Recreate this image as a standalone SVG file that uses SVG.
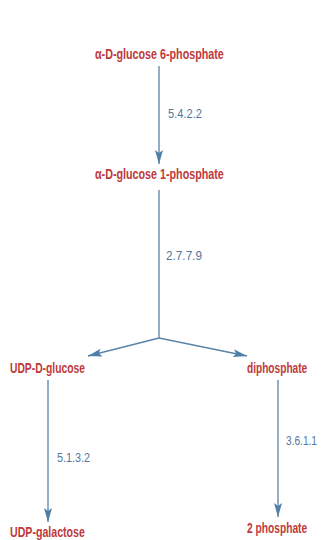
<svg xmlns="http://www.w3.org/2000/svg" width="321" height="540" viewBox="0 0 321 540">
  <style>
    .node { font-family: "Liberation Sans", Arial, sans-serif; font-weight: bold; font-size: 15px; fill: #c0393b; }
    .ec { font-family: "Liberation Sans", Arial, sans-serif; font-size: 12px; fill: #52779c; }
    .edge { stroke: #5a83a8; stroke-width: 1.3; fill: none; }
  </style>
  <defs>
    <marker id="arrow" viewBox="0 0 14 8" refX="14" refY="4" markerWidth="14" markerHeight="8" markerUnits="userSpaceOnUse" orient="auto">
      <path d="M0,0 L14,4 L0,8 L3,4 Z" fill="#4f7ea6"/>
    </marker>
  </defs>
  <rect width="321" height="540" fill="#ffffff"/>

  <g id="connectors">
    <line class="edge" x1="159" y1="66" x2="159" y2="164" marker-end="url(#arrow)"/>
    <line class="edge" x1="159" y1="190" x2="159" y2="338"/>
    <line class="edge" x1="159" y1="338" x2="88" y2="356" marker-end="url(#arrow)"/>
    <line class="edge" x1="159" y1="338" x2="247" y2="356" marker-end="url(#arrow)"/>
    <line class="edge" x1="48" y1="380" x2="48" y2="522" marker-end="url(#arrow)"/>
    <line class="edge" x1="278" y1="380" x2="278" y2="517" marker-end="url(#arrow)"/>
    <!-- EC numbers, narrowed slightly -->
    <text class="ec" transform="translate(168,118) scale(0.9,1)" textLength="37.8" lengthAdjust="spacingAndGlyphs">5.4.2.2</text>
    <text class="ec" transform="translate(166,260) scale(0.9,1)" textLength="40" lengthAdjust="spacingAndGlyphs">2.7.7.9</text>
    <text class="ec" transform="translate(57,462) scale(0.9,1)" textLength="36.7" lengthAdjust="spacingAndGlyphs">5.1.3.2</text>
    <text class="ec" transform="translate(286,445) scale(0.9,1)" textLength="34.4" lengthAdjust="spacingAndGlyphs">3.6.1.1</text>
  </g>

  <!-- compound names, set in a condensed bold -->
  <g id="g6p">
    <text class="node" transform="translate(95,59) scale(0.7,1)" textLength="184" lengthAdjust="spacingAndGlyphs">α-D-glucose 6-phosphate</text>
  </g>
  <g id="g1p">
    <text class="node" transform="translate(95,179) scale(0.7,1)" textLength="184" lengthAdjust="spacingAndGlyphs">α-D-glucose 1-phosphate</text>
  </g>
  <g id="udpglc">
    <text class="node" transform="translate(10,373) scale(0.7,1)" textLength="107" lengthAdjust="spacingAndGlyphs">UDP-D-glucose</text>
  </g>
  <g id="ppi">
    <text class="node" transform="translate(247,373) scale(0.7,1)" textLength="86" lengthAdjust="spacingAndGlyphs">diphosphate</text>
  </g>
  <g id="udpgal">
    <text class="node" transform="translate(10,537) scale(0.7,1)" textLength="107" lengthAdjust="spacingAndGlyphs">UDP-galactose</text>
  </g>
  <g id="pi">
    <text class="node" transform="translate(247,533) scale(0.7,1)" textLength="86" lengthAdjust="spacingAndGlyphs">2 phosphate</text>
  </g>
</svg>
